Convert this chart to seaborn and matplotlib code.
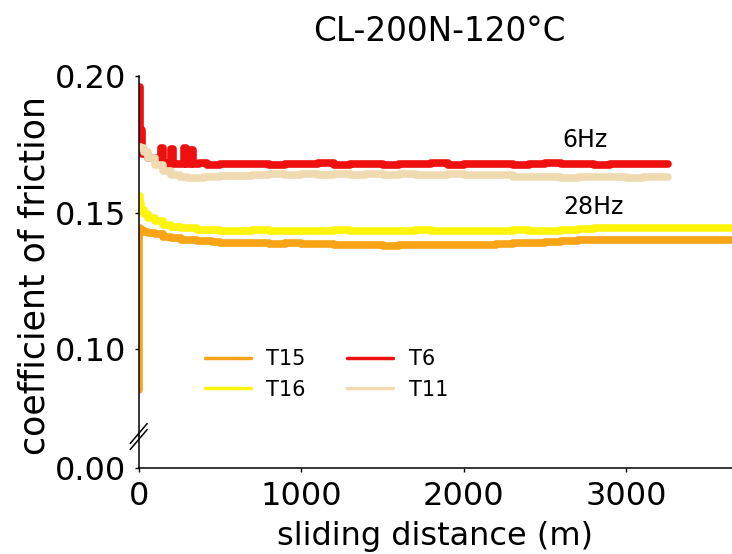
import numpy as np
import pandas as pd
import matplotlib
matplotlib.use("Agg")
import matplotlib.pyplot as plt
from matplotlib.lines import Line2D
import seaborn as sns

sns.set_style("ticks")
plt.rcParams["font.family"] = ["DejaVu Sans"]
plt.rcParams["text.color"] = "black"

# ---------------- data ----------------
t6_x = [0, 8, 20, 60, 119, 140, 150, 175, 200, 212, 240, 280, 292, 322, 333,
        370, 420, 500, 600, 700, 800, 900, 1000, 1100, 1200, 1300, 1400, 1500,
        1600, 1700, 1800, 1900, 2000, 2100, 2200, 2300, 2400, 2500, 2600, 2700,
        2800, 2900, 3000, 3100, 3200, 3255]
t6_y = [0.196, 0.180, 0.1715, 0.1700, 0.1678, 0.1735, 0.1680, 0.1676, 0.1732,
        0.1679, 0.1677, 0.1735, 0.1678, 0.1728, 0.1677, 0.1680, 0.1675,
        0.1678, 0.1676, 0.1679, 0.1675, 0.1678, 0.1676, 0.1680, 0.1675,
        0.1677, 0.1679, 0.1674, 0.1678, 0.1676, 0.1680, 0.1675, 0.1678,
        0.1676, 0.1679, 0.1675, 0.1677, 0.1680, 0.1676, 0.1678, 0.1675,
        0.1679, 0.1677, 0.1676, 0.1678, 0.1677]

t11_x = [0, 15, 30, 60, 100, 150, 200, 255, 300, 400, 500, 600, 700, 800,
         900, 1000, 1100, 1200, 1300, 1400, 1500, 1600, 1700, 1800, 1900,
         2000, 2100, 2200, 2300, 2400, 2500, 2600, 2700, 2800, 2900, 3000,
         3100, 3200, 3255]
t11_y = [0.1738, 0.1735, 0.1720, 0.1700, 0.1675, 0.1650, 0.1636, 0.1630,
         0.1628, 0.1629, 0.1632, 0.1635, 0.1637, 0.1640, 0.1638, 0.1641,
         0.1639, 0.1641, 0.1638, 0.1640, 0.1637, 0.1641, 0.1639, 0.1637,
         0.1640, 0.1638, 0.1639, 0.1636, 0.1631, 0.1629, 0.1631, 0.1628,
         0.1630, 0.1629, 0.1631, 0.1628, 0.1630, 0.1629, 0.1630]

t16_x = [0, 5, 15, 30, 60, 100, 150, 200, 260, 360, 450, 500, 600, 700, 800,
         900, 1000, 1100, 1200, 1300, 1400, 1500, 1600, 1700, 1800, 1900,
         2000, 2100, 2200, 2300, 2400, 2500, 2600, 2700, 2800, 2900, 3000,
         3100, 3200, 3300, 3400, 3500, 3600, 3700]
t16_y = [0.1560, 0.1530, 0.1510, 0.1495, 0.1480, 0.1468, 0.1455, 0.1448,
         0.1442, 0.1437, 0.1435, 0.1434, 0.1432, 0.1435, 0.1433, 0.1431,
         0.1434, 0.1432, 0.1435, 0.1433, 0.1431, 0.1434, 0.1432, 0.1435,
         0.1433, 0.1432, 0.1434, 0.1431, 0.1433, 0.1435, 0.1432, 0.1434,
         0.1436, 0.1441, 0.1443, 0.1445, 0.1442, 0.1444, 0.1443, 0.1445,
         0.1442, 0.1444, 0.1443, 0.1444]

t15_x = [0, 2, 4, 10, 26, 60, 100, 150, 200, 260, 360, 450, 500, 600, 700,
         800, 900, 1000, 1100, 1200, 1300, 1400, 1500, 1600, 1700, 1800, 1900,
         2000, 2100, 2200, 2300, 2400, 2500, 2600, 2700, 2800, 2900, 3000,
         3100, 3200, 3300, 3400, 3500, 3600, 3700]
t15_y = [0.085, 0.110, 0.1445, 0.1438, 0.1429, 0.1424, 0.1420, 0.1412,
         0.1406, 0.1401, 0.1397, 0.1393, 0.1390, 0.1388, 0.1389, 0.1386,
         0.1387, 0.1384, 0.1385, 0.1382, 0.1380, 0.1382, 0.1379, 0.1381,
         0.1380, 0.1382, 0.1380, 0.1383, 0.1382, 0.1385, 0.1387, 0.1390,
         0.1392, 0.1395, 0.1398, 0.1399, 0.1400, 0.1399, 0.1401, 0.1400,
         0.1399, 0.1401, 0.1400, 0.1399, 0.1400]

series_names = ["T15", "T16", "T6", "T11"]
series_colors = ["#F7A416", "#FFF50A", "#EE1010", "#F0DAB2"]
title_text = "CL-200N-120°C"
xlabel_text = "sliding distance (m)"
ylabel_text = "coefficient of friction"
x_ticks = [0, 1000, 2000, 3000]
y_ticks_top = [0.10, 0.15, 0.20]
y_ticks_bottom = [0.00]
annotations = [("6Hz", 2745, 0.1741), ("28Hz", 2797, 0.1495)]
x_max = 3650

# ---------------- assemble ----------------
frames = []
for name, xs, ys in [("T15", t15_x, t15_y), ("T16", t16_x, t16_y),
                     ("T6", t6_x, t6_y), ("T11", t11_x, t11_y)]:
    frames.append(pd.DataFrame({"distance": xs, "cof": ys, "series": name}))
df = pd.concat(frames, ignore_index=True)

W, H = 732, 554
fig = plt.figure(figsize=(W / 100, H / 100), dpi=100)

px_per_unit = 137.0 / 0.05
x_left_px, x_right_px = 138.7, 732
top_px = 75.7           # value 0.20
break_px = 436.0
zero_px = 467.7         # value 0.00
y010_px = 349.3

left = x_left_px / W
width = (x_right_px - x_left_px) / W
ax_top = fig.add_axes([left, 1 - break_px / H, width, (break_px - top_px) / H])
ax_bot = fig.add_axes([left, 1 - zero_px / H, width, (zero_px - break_px) / H],
                      sharex=ax_top)

ylow_top = 0.10 - (break_px - y010_px) / px_per_unit
ax_top.set_ylim(ylow_top, 0.20)
ax_bot.set_ylim(0, (zero_px - break_px) / px_per_unit)
ax_top.set_xlim(0, x_max)

palette = dict(zip(series_names, series_colors))
sns.lineplot(data=df, x="distance", y="cof", hue="series",
             hue_order=series_names, palette=palette, sort=False,
             estimator=None, linewidth=5.5, ax=ax_top, legend=True,
             drawstyle="steps-post")

for ax in (ax_top, ax_bot):
    ax.spines["top"].set_visible(False)
    ax.spines["right"].set_visible(False)
    ax.set_xlabel("")
    ax.set_ylabel("")
    ax.tick_params(labelsize=23, length=3, width=1.0, colors="black")
    ax.tick_params(axis="y", pad=6)
    ax.tick_params(axis="x", pad=6.5)
    for s in ax.spines.values():
        s.set_linewidth(1.1)
        s.set_color("black")
ax_top.spines["bottom"].set_visible(False)
ax_top.tick_params(axis="x", bottom=False, labelbottom=False)
ax_top.set_yticks(y_ticks_top)
ax_top.set_yticklabels([f"{v:.2f}" for v in y_ticks_top])
ax_bot.set_yticks(y_ticks_bottom)
ax_bot.set_yticklabels([f"{v:.2f}" for v in y_ticks_bottom])
ax_bot.set_xticks(x_ticks)
ax_bot.set_xticklabels([str(v) for v in x_ticks])
ax_bot.patch.set_alpha(0)
ax_top.patch.set_alpha(0)

# legend
handles, labels = ax_top.get_legend_handles_labels()
for h in handles:
    h.set_linewidth(2.5)
leg = ax_top.legend(handles, labels, ncol=2, frameon=False, fontsize=15,
                    handlelength=2.2, handletextpad=0.75, columnspacing=2.0,
                    labelspacing=0.5, loc="center",
                    bbox_to_anchor=(326.5 / W, 1 - 374.5 / H),
                    bbox_transform=fig.transFigure)
for t in leg.get_texts():
    t.set_color("black")

for txt, xv, yv in annotations:
    ax_top.text(xv, yv, txt, fontsize=17, ha="center", va="baseline",
                color="black")

# break marks on the y spine
for cy in (433.5, 439.5):
    x0, y0 = x_left_px - 8.5, cy + 10
    x1, y1 = x_left_px + 8.5, cy - 10
    fig.add_artist(Line2D([x0 / W, x1 / W], [1 - y0 / H, 1 - y1 / H],
                          color="black", linewidth=1.1,
                          transform=fig.transFigure))

fig.text(439 / W, 1 - 41 / H, title_text, fontsize=23.5, ha="center",
         va="baseline", color="black")
fig.text(435 / W, 1 - 545 / H, xlabel_text, fontsize=23, ha="center",
         va="baseline", color="black")
fig.text(35 / W, 1 - 275.5 / H, ylabel_text, fontsize=25, ha="center",
         va="center", rotation=90, color="black")

fig.savefig("out.png", dpi=100)
